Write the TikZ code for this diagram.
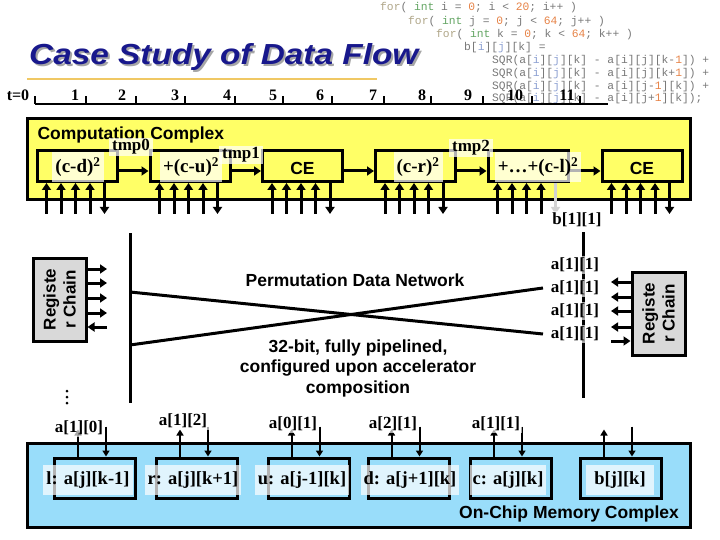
\documentclass[tikz,border=0pt]{standalone}
\usepackage{fontspec}
\setmainfont{Liberation Serif}
\setsansfont{Liberation Sans}
\newfontfamily\codefont{Liberation Mono}
\usetikzlibrary{arrows.meta}
\definecolor{titleblue}{RGB}{24,24,140}
\definecolor{ylw}{RGB}{255,255,102}
\definecolor{memblue}{RGB}{153,221,250}
\definecolor{chaingray}{RGB}{217,217,217}
\definecolor{rulec}{RGB}{240,200,100}
\definecolor{codegray}{RGB}{120,120,120}
\definecolor{kwc}{RGB}{175,165,135}
\definecolor{tyc}{RGB}{100,165,100}
\definecolor{numc}{RGB}{230,130,70}
\definecolor{idxc}{RGB}{140,160,210}
\newcommand{\ckw}[1]{\textcolor{kwc}{#1}}
\newcommand{\cty}[1]{\textcolor{tyc}{#1}}
\newcommand{\cnum}[1]{\textcolor{numc}{#1}}
\newcommand{\cidx}[1]{\textcolor{idxc}{#1}}
\tikzset{
  cbox/.style={draw=black, line width=3pt, fill=ylw, minimum width=80pt, minimum height=31pt, inner sep=0pt},
  mbox/.style={draw=black, line width=3pt, fill=memblue, minimum width=81pt, minimum height=40pt, inner sep=0pt},
  wlbl/.style={fill=white, fill opacity=0.7, text opacity=1, inner xsep=3pt, inner ysep=2pt},
  serl/.style={font=\bfseries\fontsize{19}{21}\selectfont},
  memlbl/.style={wlbl, font=\bfseries\fontsize{18.5}{20}\selectfont, minimum height=30pt},
  alab/.style={fill=white, fill opacity=0.65, text opacity=1, inner sep=1.5pt, font=\bfseries\fontsize{17}{19}\selectfont},
  sansb/.style={font=\sffamily\bfseries\fontsize{17.5}{20.5}\selectfont},
  tnum/.style={font=\bfseries\fontsize{16}{18}\selectfont},
  code/.style={anchor=west, inner sep=0pt, text=codegray, font=\codefont\fontsize{11.3}{13}\selectfont},
  thk/.style={line width=3pt},
  tarr/.style={line width=3pt, -{Triangle[width=9pt,length=7pt]}},
  narr/.style={line width=2pt, -{Triangle[width=7pt,length=6pt]}},
  chain/.style={draw=black, line width=3pt, fill=chaingray, minimum width=53pt, minimum height=83pt, inner sep=0pt}
}
\begin{document}
\begin{tikzpicture}[x=1pt,y=-1pt]
\useasboundingbox (0,0) rectangle (720,540);
% code
\node[code] (l1) at (380,8) {\ckw{for}( \cty{int} i = \cnum{0}; i < \cnum{20}; i++ )};
\node[code] (l2) at (408,22) {\ckw{for}( \cty{int} j = \cnum{0}; j < \cnum{64}; j++ )};
\node[code] (l3) at (436,35) {\ckw{for}( \cty{int} k = \cnum{0}; k < \cnum{64}; k++ )};
\node[code] (l4) at (464,48) {b[\cidx{i}][\cidx{j}][k] =};
\node[code] (l5) at (492,61) {SQR(a[\cidx{i}][\cidx{j}][k] - a[i][j][k-\cnum{1}]) +};
\node[code] (l6) at (492,74) {SQR(a[\cidx{i}][\cidx{j}][k] - a[i][j][k+\cnum{1}]) +};
\node[code] (l7) at (492,87) {SQR(a[\cidx{i}][\cidx{j}][k] - a[i][j-\cnum{1}][k]) +};
\node[code] (l8) at (492,99) {SQR(a[\cidx{i}][\cidx{j}][k] - a[i][j+\cnum{1}][k]);};
% title
\node[anchor=west, xscale=1.15, inner sep=0pt, text=gray!70, font=\sffamily\bfseries\itshape\fontsize{29}{32}\selectfont] at (31,59) {Case Study of Data Flow};
\node[anchor=west, xscale=1.15, inner sep=0pt, text=titleblue, font=\sffamily\bfseries\itshape\fontsize{29}{32}\selectfont] (title) at (29,57) {Case Study of Data Flow};
\draw[rulec, line width=1.5pt] (27,79) -- (377,79);
% timeline
\node[tnum] (t0) at (18,95) {t=0};
\draw[line width=1.2pt] (35,104) -- (608,104);
\foreach \tx in {35,86,136,185,235,283,332,384,431,483,532,580}{
  \draw[line width=1.2pt] (\tx,104) -- (\tx,96);
}
\foreach \nx/\nl in {75/1,122/2,175/3,227/4,273/5,320/6,373/7,422/8,468/9,515/10,567/11}{
  \node[tnum] at (\nx,95) {\nl};
}
% computation complex
\draw[thk, fill=ylw] (27,119) rectangle (690,200);
\node[sansb, anchor=west] (cc) at (34,135) {Computation Complex};
\node[cbox] (b1) at (77,166) {};
\node[cbox] (b2) at (190,166) {};
\node[cbox] (b3) at (302.5,166) {};
\node[cbox] (b4) at (415.5,166) {};
\node[cbox] (b5) at (528,166) {};
\node[cbox] (b6) at (642,166) {};
\draw[tarr] (b1.east |- 0,171) -- (b2.west |- 0,171);
\draw[tarr] (b2.east |- 0,171) -- (b3.west |- 0,171);
\draw[tarr] (b3.east |- 0,171) -- (b4.west |- 0,171);
\draw[tarr] (b4.east |- 0,171) -- (b5.west |- 0,171);
\draw[tarr] (b5.east |- 0,171) -- (b6.west |- 0,171);
\foreach \b in {b1,b2,b3,b4,b5,b6}{
  \foreach \o in {11,25.5,40,54.5}{
    \draw[tarr] ([xshift=\o pt]\b.south west) ++(0,31) -- ([xshift=\o pt]\b.south west);
  }
}
\foreach \b in {b1,b2,b3,b4,b6}{
  \draw[tarr] ([xshift=69pt]\b.south west) -- ++(0,31);
}
\draw[tarr, gray!35] ([xshift=69pt]b5.south west) -- ++(0,31);
\node[wlbl, serl, minimum height=30pt] (lcd) at (78,167) {(c-d)\textsuperscript{2}};
\node[wlbl, serl, minimum height=30pt] (lcu) at (191,167) {+(c-u)\textsuperscript{2}};
\node[sansb] (lce1) at (302.5,168) {CE};
\node[wlbl, serl, minimum height=30pt] (lcr) at (418,167) {(c-r)\textsuperscript{2}};
\node[wlbl, serl, minimum height=30pt] (lcl) at (538,167) {+\ldots+(c-l)\textsuperscript{2}};
\node[sansb] (lce2) at (642,168) {CE};
\node[wlbl, font=\bfseries\fontsize{17}{19}\selectfont] (tmp0) at (131,147) {tmp0};
\node[wlbl, font=\bfseries\fontsize{17}{19}\selectfont] (tmp1) at (241,155) {tmp1};
\node[wlbl, font=\bfseries\fontsize{17}{19}\selectfont] (tmp2) at (471,148) {tmp2};
% permutation network
\coordinate (vl1) at (130,233);
\coordinate (vl2) at (130,403);
\coordinate (vr1) at (583,232);
\coordinate (vr2) at (583,398);
\draw[thk] (vl1) -- (vl2);
\draw[thk] (vr1) -- (vr2);
\coordinate (xa1) at (130,292);
\coordinate (xa2) at (543,334);
\coordinate (xb1) at (130,345);
\coordinate (xb2) at (543,288);
\draw[thk] (xa1) -- (xa2);
\draw[thk] (xb1) -- (xb2);
\node[alab] (bout) at (577,220) {b[1][1]};
\node[alab] (r1) at (575,265) {a[1][1]};
\node[alab] (r2) at (575,288) {a[1][1]};
\node[alab] (r3) at (575,311) {a[1][1]};
\node[alab] (r4) at (575,334) {a[1][1]};
\node[sansb] (pdn) at (355,280) {Permutation Data Network};
\node[sansb, align=center] (desc) at (358,368) {32-bit, fully pipelined,\\configured upon accelerator\\composition};
% register chains
\node[chain] (lch) at (59.5,299.5) {};
\node[sansb, rotate=90, align=center, font=\sffamily\bfseries\fontsize{17}{20}\selectfont] at (lch.center) {Registe\\r Chain};
\foreach \yy in {269,283,298,313}{
  \draw[tarr] (lch.east |- 0,\yy) -- (107,\yy);
}
\draw[tarr] (107,327) -- (lch.east |- 0,327);
\node[chain] (rch) at (658.5,313.5) {};
\node[sansb, rotate=90, align=center, font=\sffamily\bfseries\fontsize{17}{20}\selectfont] at (rch.center) {Registe\\r Chain};
\foreach \yy in {282,297,311,327}{
  \draw[tarr] (rch.west |- 0,\yy) -- (611,\yy);
}
\draw[tarr] (611,341) -- (rch.west |- 0,341);
\foreach \yy in {391,397,403}{
  \fill (67,\yy) circle (1.5);
}
% memory complex
\draw[thk, fill=memblue] (27,443) rectangle (690,527);
\node[mbox] (ml) at (95,478) {};
\node[mbox] (mr) at (197,478) {};
\node[mbox] (mu) at (308.5,478) {};
\node[mbox] (md) at (408.5,478) {};
\node[mbox] (mc) at (511,478) {};
\node[mbox] (mb) at (621,478) {};
\foreach \m in {ml,mr,mu,md,mc,mb}{
  \draw[narr] ([xshift=25pt]\m.north west) -- ++(0,-27);
  \draw[narr] ([xshift=53pt]\m.north west) ++(0,-30) -- ([xshift=53pt]\m.north west);
}
\node[memlbl] (tl) at (88,480) {l: a[j][k-1]};
\node[memlbl] (tr) at (193,480) {r: a[j][k+1]};
\node[memlbl] (tu) at (302,480) {u: a[j-1][k]};
\node[memlbl] (td) at (410,480) {d: a[j+1][k]};
\node[memlbl] (tc) at (508,480) {c: a[j][k]};
\node[memlbl, inner xsep=8pt] (tb) at (620,480) {b[j][k]};
\node[sansb] (ocm) at (569,514) {On-Chip Memory Complex};
\node[alab] (a10) at (79,428) {a[1][0]};
\node[alab] (a12) at (183,421) {a[1][2]};
\node[alab] (a01) at (293,424) {a[0][1]};
\node[alab] (a21) at (393,424) {a[2][1]};
\node[alab] (a11) at (496,424) {a[1][1]};
\end{tikzpicture}
\end{document}
